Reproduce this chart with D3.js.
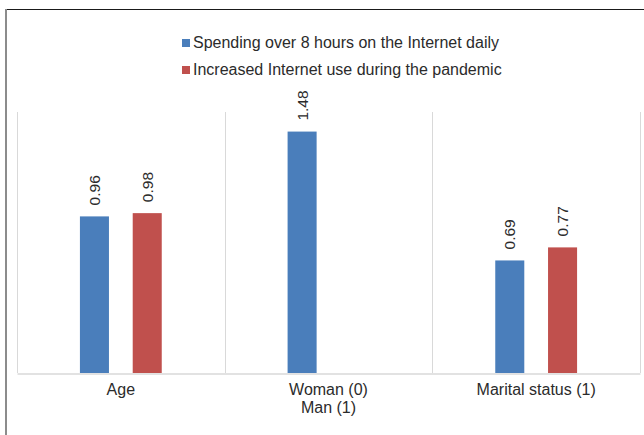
<!DOCTYPE html>
<html>
<head>
<meta charset="utf-8">
<script src="https://cdn.jsdelivr.net/npm/d3@7"></script>
<style>
  html, body { margin: 0; padding: 0; background: #fff; }
  svg { display: block; font-family: "Liberation Sans", Arial, sans-serif; }
</style>
</head>
<body>
<svg id="chart" width="644" height="435"></svg>
<script>
const categories = [["Age"], ["Woman (0)", "Man (1)"], ["Marital status (1)"]];
const categoryKeys = ["Age", "Woman (0) Man (1)", "Marital status (1)"];
const seriesNames = ["Spending over 8 hours on the Internet daily", "Increased Internet use during the pandemic"];
const spendingOver8h = [0.96, 1.48, 0.69];
const increasedUse = [0.98, null, 0.77];
const seriesColors = ["#4a7ebb", "#c0504d"];
const labelFormat = v => v.toFixed(2);

const svg = d3.select("#chart");
const W = 644, H = 435;
const plot = { left: 17, right: 640, top: 112, bottom: 373 };

// outer frame
svg.append("line").attr("x1", 5).attr("x2", W).attr("y1", 9.5).attr("y2", 9.5)
  .attr("stroke", "#1a1a1a").attr("stroke-width", 1.2);
svg.append("line").attr("x1", 6).attr("x2", 6).attr("y1", 9).attr("y2", H)
  .attr("stroke", "#8c8c8c").attr("stroke-width", 2);

const x = d3.scaleBand().domain(categoryKeys).range([plot.left, plot.right]).padding(0);
const half = x.bandwidth() * 0.197;
const xs = d3.scaleBand().domain(seriesNames).range([-half, half]).paddingInner(0.45);
const y = d3.scaleLinear().domain([0, 1.6]).range([plot.bottom, plot.top]);

// vertical gridlines at category boundaries
const bounds = categoryKeys.map(k => x(k)).concat([x(categoryKeys[categoryKeys.length - 1]) + x.bandwidth()]);
svg.append("g").selectAll("line").data(bounds).join("line")
  .attr("x1", d => Math.round(d) + 0.5).attr("x2", d => Math.round(d) + 0.5)
  .attr("y1", y(1.6)).attr("y2", y(0))
  .attr("stroke", "#d9d9d9").attr("stroke-width", 1);

// baseline axis
const xAxis = d3.axisBottom(x).tickSize(0).tickFormat(() => "");
const gx = svg.append("g").attr("transform", `translate(0,${y(0) + 0.5})`).call(xAxis);
gx.select(".domain").attr("stroke", "#d9d9d9").attr("stroke-width", 1.5);

// category labels
const labelG = svg.append("g");
categoryKeys.forEach((k, i) => {
  const cx = x(k) + x.bandwidth() / 2;
  const t = labelG.append("text")
    .attr("x", cx)
    .attr("y", 395)
    .attr("text-anchor", "middle")
    .attr("font-size", 16)
    .attr("fill", "#2b2b2b");
  categories[i].forEach((line, j) => {
    t.append("tspan").attr("x", cx).attr("dy", j === 0 ? 0 : 18).text(line);
  });
});

// bars
const data = [];
categoryKeys.forEach((k, i) => {
  [spendingOver8h, increasedUse].forEach((arr, s) => {
    if (arr[i] !== null) data.push({ cat: k, series: seriesNames[s], value: arr[i], color: seriesColors[s] });
  });
});

svg.append("g").selectAll("rect").data(data).join("rect")
  .attr("x", d => x(d.cat) + x.bandwidth() / 2 + xs(d.series))
  .attr("width", xs.bandwidth())
  .attr("y", d => y(d.value))
  .attr("height", d => y(0) - y(d.value))
  .attr("fill", d => d.color);

// rotated data labels
svg.append("g").selectAll("text").data(data).join("text")
  .attr("transform", d => {
    const cx = x(d.cat) + x.bandwidth() / 2 + xs(d.series) + xs.bandwidth() / 2;
    return `translate(${cx},${y(d.value) - 11}) rotate(-90)`;
  })
  .attr("dy", "0.36em")
  .attr("text-anchor", "start")
  .attr("font-size", 15.5)
  .attr("fill", "#2b2b2b")
  .text(d => labelFormat(d.value));

// legend
const legend = svg.append("g").attr("transform", "translate(182,0)");
seriesNames.forEach((name, i) => {
  const yy = 48 + i * 27;
  legend.append("rect").attr("x", 0).attr("y", yy - 9).attr("width", 8).attr("height", 8).attr("fill", seriesColors[i]);
  legend.append("text").attr("x", 11).attr("y", yy).attr("font-size", 16).attr("fill", "#2b2b2b").text(name);
});
</script>
</body>
</html>
